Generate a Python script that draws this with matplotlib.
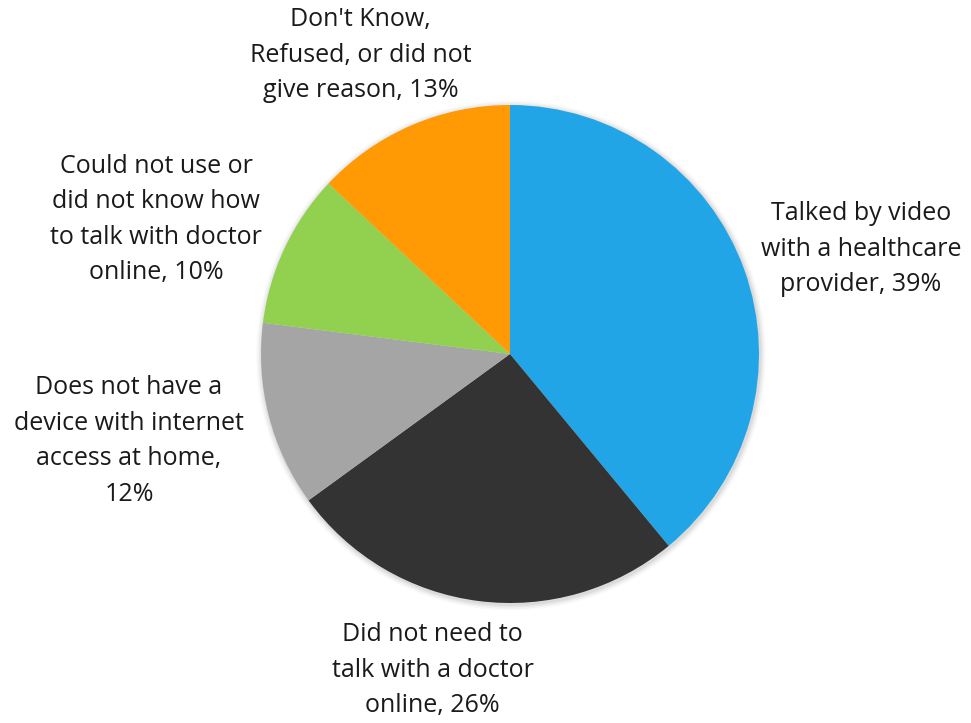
import matplotlib
matplotlib.use('agg')
import matplotlib.pyplot as plt
from matplotlib.patches import Circle

plt.rcParams['font.family'] = ['Open Sans', 'DejaVu Sans']

labels = ["Talked by video\nwith a healthcare\nprovider",
          "Did not need to\ntalk with a doctor\nonline",
          "Does not have a\ndevice with internet\naccess at home,\n",
          "Could not use or\ndid not know how\nto talk with doctor\nonline",
          "Don't Know,\nRefused, or did not\ngive reason"]
values = [39, 26, 12, 10, 13]
colors = ['#22A5E6', '#333333', '#A5A5A5', '#92D050', '#FF9A05']
# label centres, in pie radius units
label_pos = [(1.41, 0.42), (-0.31, -1.27), (-1.53, -0.35), (-1.42, 0.54), (-0.60, 1.20)]

fig = plt.figure(figsize=(9.71, 7.23), dpi=100)
ax = fig.add_axes([0, 0, 1, 1])
r_px = 249.0
cx, cy = 510.0, 354.0

# soft shadow under the pie
for i, a in enumerate([0.05, 0.04, 0.03, 0.02]):
    ax.add_patch(Circle((0.004, -0.006), 1.0 + 0.006 * (i + 1), color='black',
                        alpha=a, lw=0, zorder=0))

ax.pie(values, colors=colors, startangle=90, counterclock=False, radius=1.0,
       center=(0, 0), wedgeprops=dict(linewidth=0), frame=True)
ax.set_xlim(-cx / r_px, (971 - cx) / r_px)
ax.set_ylim(-(723 - cy) / r_px, cy / r_px)
ax.set_aspect('equal')
ax.axis('off')

for lab, v, (x, y) in zip(labels, values, label_pos):
    text = lab.rstrip('\n')
    if lab.endswith('\n'):
        text = text + '\n' + f'{v}%'
    else:
        text = text + f', {v}%'
    ax.text(x, y, text, ha='center', va='center', fontsize=18,
            color='#1a1a1a', linespacing=1.55)

fig.savefig('out.png', dpi=100)
